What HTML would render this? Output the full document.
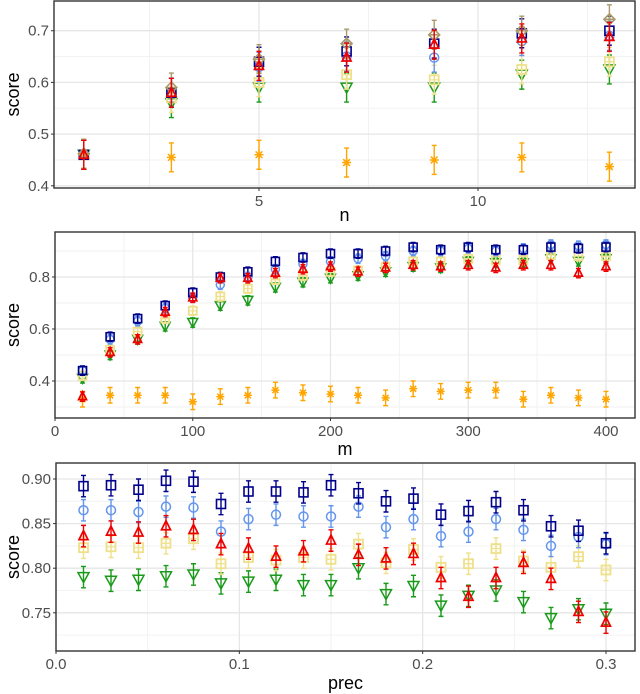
<!DOCTYPE html>
<html><head><meta charset="utf-8"><style>
html,body{margin:0;padding:0;background:#fff;}
svg{display:block;font-family:"Liberation Sans",sans-serif;}
</style></head><body>
<svg id="c" width="640" height="694" viewBox="0 0 640 694" xmlns="http://www.w3.org/2000/svg"></svg>
<script>
// ---- Panel 1 data (x = n) ----
const nVals = [1,3,5,7,9,11,13];
const p1DarkBlue = [0.46,0.58,0.64,0.66,0.675,0.695,0.70];
const p1Cornflower = [0.46,0.58,0.63,0.65,0.648,0.68,0.69];
const p1Red = [0.46,0.58,0.632,0.648,0.673,0.685,0.688];
const p1Khaki = [0.46,0.57,0.60,0.615,0.605,0.625,0.64];
const p1Green = [0.46,0.56,0.59,0.59,0.59,0.615,0.625];
const p1Orange = [0.462,0.455,0.46,0.445,0.45,0.455,0.437];
const p1Tan = [0.462,0.59,0.645,0.675,0.692,0.70,0.722];
const p1Ticks = [5,10];
const p1YTicks = [0.4,0.5,0.6,0.7];

// ---- Panel 2 data (x = m) ----
const mVals = [20,40,60,80,100,120,140,160,180,200,220,240,260,280,300,320,340,360,380,400];
const p2DarkBlue = [0.44,0.57,0.64,0.69,0.74,0.80,0.82,0.86,0.875,0.89,0.89,0.90,0.915,0.905,0.915,0.905,0.905,0.915,0.91,0.915];
const p2Cornflower = [0.44,0.56,0.63,0.68,0.72,0.77,0.80,0.83,0.85,0.86,0.87,0.88,0.90,0.90,0.91,0.90,0.91,0.925,0.92,0.925];
const p2Red = [0.34,0.51,0.56,0.665,0.72,0.795,0.795,0.815,0.83,0.84,0.82,0.835,0.845,0.84,0.845,0.835,0.845,0.845,0.815,0.84];
const p2Khaki = [0.42,0.52,0.59,0.64,0.67,0.725,0.755,0.79,0.805,0.82,0.825,0.84,0.86,0.86,0.87,0.865,0.865,0.885,0.88,0.88];
const p2Green = [0.41,0.50,0.56,0.61,0.625,0.69,0.71,0.76,0.78,0.795,0.805,0.82,0.84,0.835,0.86,0.855,0.855,0.87,0.86,0.87];
const p2Orange = [0.33,0.345,0.345,0.345,0.32,0.34,0.345,0.365,0.355,0.35,0.345,0.335,0.37,0.36,0.365,0.365,0.33,0.345,0.335,0.33];
const p2Ticks = [0,100,200,300,400];
const p2YTicks = [0.4,0.6,0.8];

// ---- Panel 3 data (x = prec) ----
const precVals = [0.015,0.03,0.045,0.06,0.075,0.09,0.105,0.12,0.135,0.15,0.165,0.18,0.195,0.21,0.225,0.24,0.255,0.27,0.285,0.3];
const p3DarkBlue = [.892,.893,.888,.898,.897,.872,.886,.886,.885,.893,.884,.875,.878,.860,.864,.874,.865,.847,.842,.828];
const p3Cornflower = [.865,.865,.863,.869,.868,.841,.855,.860,.858,.858,.869,.846,.855,.836,.841,.855,.843,.825,.835,.827];
const p3Red = [.836,.841,.840,.847,.843,.827,.822,.813,.819,.831,.815,.811,.816,.789,.768,.789,.806,.788,.751,.739];
const p3Khaki = [.823,.824,.823,.828,.833,.805,.812,.809,.812,.810,.827,.806,.821,.801,.805,.822,.808,.801,.813,.798];
const p3Green = [.790,.786,.787,.791,.793,.783,.785,.787,.781,.781,.800,.771,.780,.758,.769,.775,.762,.744,.754,.749];
const p3Ticks = [0.0,0.1,0.2,0.3];
const p3YTicks = [0.75,0.80,0.85,0.90];

const NS="http://www.w3.org/2000/svg";
const svg=document.getElementById('c');
function el(tag,attrs,parent){const e=document.createElementNS(NS,tag);for(const k in attrs)e.setAttribute(k,attrs[k]);(parent||svg).appendChild(e);return e;}

const COL={darkblue:'#00008b',corn:'#6495ed',red:'#ee0000',khaki:'#efe08a',green:'#1a9a1a',orange:'#ffa500',tan:'#a89a6a'};

function marker(g,shape,cx,cy,col,s){
  if(shape==='square'){el('rect',{x:cx-s,y:cy-s,width:2*s,height:2*s,fill:'none',stroke:col,'stroke-width':1.6},g);}
  else if(shape==='khaki'){el('rect',{x:cx-s,y:cy-s,width:2*s,height:2*s,fill:'none',stroke:col,'stroke-width':1.8},g);el('path',{d:`M${cx-s} ${cy}H${cx+s}M${cx} ${cy-s}V${cy+s}`,stroke:col,'stroke-width':1.2},g);}
  else if(shape==='circle'){el('circle',{cx,cy,r:s,fill:'none',stroke:col,'stroke-width':1.5},g);}
  else if(shape==='up'){el('path',{d:`M${cx} ${cy-s-1}L${cx+s} ${cy+s-1}L${cx-s} ${cy+s-1}Z`,fill:'none',stroke:col,'stroke-width':1.7},g);}
  else if(shape==='down'){el('path',{d:`M${cx} ${cy+s+1}L${cx+s+1} ${cy-s}L${cx-s-1} ${cy-s}Z`,fill:'none',stroke:col,'stroke-width':1.5},g);}
  else if(shape==='star'){el('path',{d:`M${cx-s} ${cy}H${cx+s}M${cx} ${cy-s}V${cy+s}M${cx-s*0.75} ${cy-s*0.75}L${cx+s*0.75} ${cy+s*0.75}M${cx-s*0.75} ${cy+s*0.75}L${cx+s*0.75} ${cy-s*0.75}`,stroke:col,'stroke-width':1.5},g);}
  else if(shape==='diamond'){el('path',{d:`M${cx} ${cy-s-1}L${cx+s+1} ${cy}L${cx} ${cy+s+1}L${cx-s-1} ${cy}Z M${cx-s} ${cy}H${cx+s}M${cx} ${cy-s}V${cy+s}`,fill:'none',stroke:col,'stroke-width':1.6},g);}
}

function panel(cfg){
  const g=el('g',{});
  
  
  const {L,R,T,B}=cfg;
  const xs=v=>L+(v-cfg.x0)/(cfg.x1-cfg.x0)*(R-L);
  const ys=v=>B-(v-cfg.y0)/(cfg.y1-cfg.y0)*(B-T);
  cfg.xMinor.forEach(v=>el('line',{x1:xs(v),x2:xs(v),y1:T,y2:B,stroke:'#f2f2f2','stroke-width':1},g));
  cfg.yMinor.forEach(v=>el('line',{x1:L,x2:R,y1:ys(v),y2:ys(v),stroke:'#f2f2f2','stroke-width':1},g));
  cfg.xTicks.forEach(v=>el('line',{x1:xs(v),x2:xs(v),y1:T,y2:B,stroke:'#e6e6e6','stroke-width':1.3},g));
  cfg.yTicks.forEach(v=>el('line',{x1:L,x2:R,y1:ys(v),y2:ys(v),stroke:'#e6e6e6','stroke-width':1.3},g));
  cfg.series.forEach(s=>{
    const sg=el('g',{},g);
    
    
    const err=s.err||cfg.err;
    s.vals.forEach((v,i)=>{
      const cx=xs(cfg.xv[i]),cy=ys(v);
      const e1=ys(v+err),e2=ys(v-err);
      const eb=el('path',{d:`M${cx} ${e1}V${e2}M${cx-2.5} ${e1}H${cx+2.5}M${cx-2.5} ${e2}H${cx+2.5}`,stroke:s.col,'stroke-width':1.4,fill:'none'},sg);
      
      
      marker(sg,s.shape,cx,cy,s.col,cfg.ms);
    });
  });
  el('rect',{x:L,y:T,width:R-L,height:B-T,fill:'none',stroke:'#333','stroke-width':1.4},g);
  cfg.xTicks.forEach(v=>{el('line',{x1:xs(v),x2:xs(v),y1:B,y2:B+3,stroke:'#333'},g);
    const t=el('text',{x:xs(v),y:B+18,'text-anchor':'middle','font-size':15,fill:'#4d4d4d'},g);t.textContent=cfg.xFmt(v);
    });
  cfg.yTicks.forEach(v=>{el('line',{x1:L-3,x2:L,y1:ys(v),y2:ys(v),stroke:'#333'},g);
    const t=el('text',{x:L-5,y:ys(v)+5,'text-anchor':'end','font-size':15,fill:'#4d4d4d'},g);t.textContent=cfg.yFmt(v);
    });
  const xt=el('text',{x:(L+R)/2,y:cfg.xTitleY,'text-anchor':'middle','font-size':18,fill:'#000'},g);xt.textContent=cfg.xTitle;
  
  const yt=el('text',{x:0,y:0,'text-anchor':'middle','font-size':18,fill:'#000',transform:`translate(19,${(T+B)/2}) rotate(-90)`},g);yt.textContent='score';
  
}

panel({name:'panel-n',L:54,R:635,T:1,B:188,x0:(54-259)/43.8+5,x1:(635-259)/43.8+5,y0:0.7-(188-30.7)/517,y1:0.7+(30.7-1)/517,
  xv:nVals,err:0.028,ms:4.5,xTicks:p1Ticks,yTicks:p1YTicks,xMinor:[2.5,7.5,12.5],yMinor:[0.45,0.55,0.65],
  xFmt:v=>String(v),yFmt:v=>v.toFixed(1),xTitle:'n',xTitleY:221,
  series:[{key:'orange',vals:p1Orange,col:COL.orange,shape:'star'},{key:'green',vals:p1Green,col:COL.green,shape:'down'},{key:'khaki',vals:p1Khaki,col:COL.khaki,shape:'khaki'},
    {key:'cornflower',vals:p1Cornflower,col:COL.corn,shape:'circle'},{key:'darkblue',vals:p1DarkBlue,col:COL.darkblue,shape:'square'},{key:'tan',vals:p1Tan,col:COL.tan,shape:'diamond'},{key:'red',vals:p1Red,col:COL.red,shape:'up'}]});

panel({name:'panel-m',L:55,R:635,T:232,B:418,x0:0,x1:580/551*400,y0:0.8-(418-277)/260,y1:0.8+(277-232)/260,
  xv:mVals,err:0.018,ms:4,xTicks:p2Ticks,yTicks:p2YTicks,xMinor:[50,150,250,350],yMinor:[0.3,0.5,0.7,0.9],
  xFmt:v=>String(v),yFmt:v=>v.toFixed(1),xTitle:'m',xTitleY:455,
  series:[{key:'orange',vals:p2Orange,col:COL.orange,shape:'star',err:0.03},{key:'green',vals:p2Green,col:COL.green,shape:'down'},{key:'khaki',vals:p2Khaki,col:COL.khaki,shape:'khaki'},
    {key:'cornflower',vals:p2Cornflower,col:COL.corn,shape:'circle'},{key:'darkblue',vals:p2DarkBlue,col:COL.darkblue,shape:'square'},{key:'red',vals:p2Red,col:COL.red,shape:'up'}]});

panel({name:'panel-prec',L:56,R:635,T:463,B:651,x0:0,x1:579/550*0.3,y0:0.9-(651-479)/892,y1:0.9+(479-463)/892,
  xv:precVals,err:0.012,ms:4.5,xTicks:p3Ticks,yTicks:p3YTicks,xMinor:[0.05,0.15,0.25],yMinor:[0.725,0.775,0.825,0.875],
  xFmt:v=>v.toFixed(1),yFmt:v=>v.toFixed(2),xTitle:'prec',xTitleY:689,
  series:[{key:'green',vals:p3Green,col:COL.green,shape:'down'},{key:'khaki',vals:p3Khaki,col:COL.khaki,shape:'khaki'},
    {key:'cornflower',vals:p3Cornflower,col:COL.corn,shape:'circle'},{key:'darkblue',vals:p3DarkBlue,col:COL.darkblue,shape:'square'},{key:'red',vals:p3Red,col:COL.red,shape:'up'}]});
</script>
</body></html>
